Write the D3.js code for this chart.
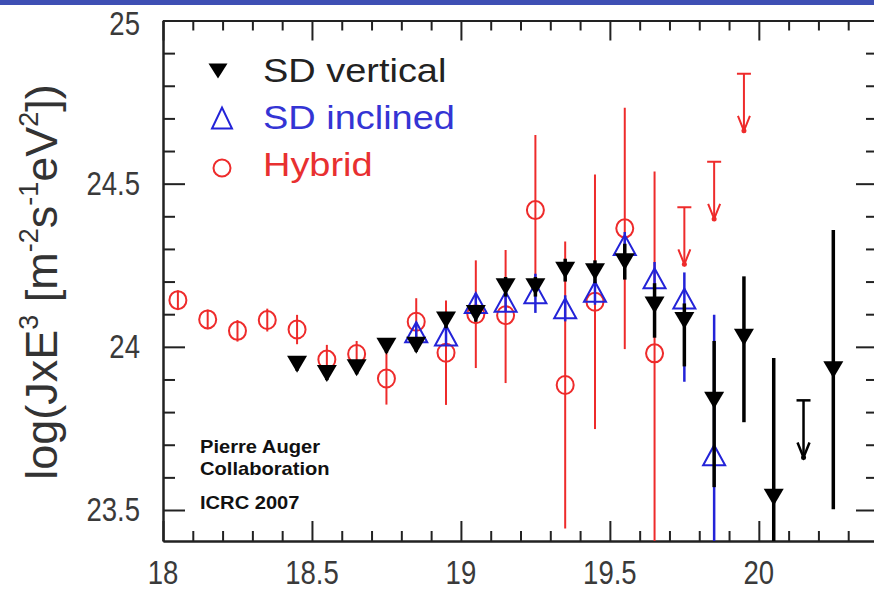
<!DOCTYPE html>
<html>
<head>
<meta charset="utf-8">
<script src="https://cdn.jsdelivr.net/npm/d3@7"></script>
<style>
  body { margin: 0; background: #fff; }
  svg { display: block; font-family: "Liberation Sans", Arial, sans-serif; }
</style>
</head>
<body>
<script>
var width = 874, height = 592;

// SD vertical (filled down triangles)
var vertX  = [18.45, 18.55, 18.65, 18.75, 18.85, 18.95, 19.05, 19.15, 19.25, 19.35, 19.45, 19.55, 19.65, 19.75, 19.85, 19.95, 20.05, 20.25];
var vertY  = [23.947, 23.918, 23.936, 24.002, 24.005, 24.082, 24.102, 24.184, 24.184, 24.235, 24.23, 24.261, 24.128, 24.081, 23.836, 24.029, 23.539, 23.93];
var vertHi = [0.02, 0.02, 0.02, 0.02, 0.02, 0.025, 0.025, 0.03, 0.03, 0.035, 0.035, 0.055, 0.067, 0.052, 0.182, 0.187, 0.427, 0.428];
var vertLo = [0.02, 0.02, 0.02, 0.02, 0.02, 0.025, 0.025, 0.03, 0.03, 0.035, 0.035, 0.055, 0.1, 0.141, 0.266, 0.26, 0.43, 0.428];
var vertLimX = [20.15];
var vertLimY = [23.836];

// SD inclined (open up triangles)
var inclX  = [18.85, 18.95, 19.05, 19.15, 19.25, 19.35, 19.45, 19.55, 19.65, 19.75, 19.85];
var inclY  = [24.045, 24.035, 24.134, 24.138, 24.164, 24.118, 24.169, 24.312, 24.21, 24.148, 23.668];
var inclHi = [0.03, 0.03, 0.03, 0.03, 0.06, 0.04, 0.04, 0.04, 0.05, 0.08, 0.43];
var inclLo = [0.03, 0.03, 0.03, 0.03, 0.06, 0.04, 0.04, 0.04, 0.05, 0.255, 0.6];

// Hybrid (open circles)
var hybX  = [18.05, 18.15, 18.25, 18.35, 18.45, 18.55, 18.65, 18.75, 18.85, 18.95, 19.05, 19.15, 19.25, 19.35, 19.45, 19.55, 19.65];
var hybY  = [24.143, 24.084, 24.049, 24.082, 24.053, 23.961, 23.978, 23.903, 24.077, 23.982, 24.10, 24.097, 24.419, 23.883, 24.138, 24.363, 23.98];
var hybHi = [0.03, 0.03, 0.033, 0.035, 0.045, 0.045, 0.04, 0.08, 0.072, 0.16, 0.165, 0.2, 0.23, 0.44, 0.39, 0.37, 0.557];
var hybLo = [0.03, 0.03, 0.033, 0.035, 0.045, 0.045, 0.04, 0.08, 0.072, 0.16, 0.165, 0.208, 0.23, 0.44, 0.39, 0.37, 0.6];
var hybLimX = [19.75, 19.85, 19.95];
var hybLimY = [24.428, 24.567, 24.837];

var xMajor = [18, 18.5, 19, 19.5, 20];
var yMajor = [23.5, 24, 24.5, 25];
var yLabels = ["23.5", "24", "24.5", "25"];
var legendNames = ["SD vertical", "SD inclined", "Hybrid"];

var black = "#000", blue = "#2323d8", red = "#ee2b2b";

var plotL = 163, plotR = 878, plotT = 20.5, plotB = 541;
var x = d3.scaleLinear().domain([18, 20.4]).range([plotL, plotR]);
var y = d3.scaleLinear().domain([23.405, 25]).range([plotB, plotT]);

var svg = d3.select("body").append("svg")
    .attr("width", width)
    .attr("height", height);

svg.append("rect").attr("x", 0).attr("y", 0).attr("width", width).attr("height", 5).attr("fill", "#3e4fb4");

svg.append("clipPath").attr("id", "plot")
  .append("rect").attr("x", plotL).attr("y", plotT).attr("width", plotR - plotL).attr("height", plotB - plotT);

// axes with inward ticks
var xMinor = d3.range(18.1, 20.4, 0.1).map(v => +v.toFixed(1)).filter(v => xMajor.indexOf(v) < 0);
var yMinor = d3.range(23.5, 25.0, 0.1).map(v => +v.toFixed(1)).filter(v => yMajor.indexOf(v) < 0);

function styleAxis(g) {
  g.selectAll("path").attr("stroke", "#222").attr("stroke-width", 2);
  g.selectAll("line").attr("stroke", "#222").attr("stroke-width", 2);
  g.selectAll("text").remove();
}

svg.append("g").attr("transform", `translate(0,${plotB})`)
    .call(d3.axisBottom(x).tickValues(xMajor).tickSize(-20).tickSizeOuter(0)).call(styleAxis);
svg.append("g").attr("transform", `translate(0,${plotB})`)
    .call(d3.axisBottom(x).tickValues(xMinor).tickSize(-10).tickSizeOuter(0)).call(styleAxis);
svg.append("g").attr("transform", `translate(0,${plotT})`)
    .call(d3.axisTop(x).tickValues(xMajor).tickSize(-20).tickSizeOuter(0)).call(styleAxis);
svg.append("g").attr("transform", `translate(0,${plotT})`)
    .call(d3.axisTop(x).tickValues(xMinor).tickSize(-10).tickSizeOuter(0)).call(styleAxis);
svg.append("g").attr("transform", `translate(${plotL},0)`)
    .call(d3.axisLeft(y).tickValues(yMajor).tickSize(-22).tickSizeOuter(0)).call(styleAxis);
svg.append("g").attr("transform", `translate(${plotL},0)`)
    .call(d3.axisLeft(y).tickValues(yMinor).tickSize(-12).tickSizeOuter(0)).call(styleAxis);
svg.append("g").attr("transform", `translate(${plotR},0)`)
    .call(d3.axisRight(y).tickValues(yMajor).tickSize(-22).tickSizeOuter(0)).call(styleAxis);
svg.append("g").attr("transform", `translate(${plotR},0)`)
    .call(d3.axisRight(y).tickValues(yMinor).tickSize(-12).tickSizeOuter(0)).call(styleAxis);

// tick labels
svg.append("g").selectAll("text")
  .data(xMajor)
  .enter().append("text")
    .attr("transform", d => `translate(${x(d)},584) scale(0.95,1.15)`)
    .attr("text-anchor", "middle")
    .attr("font-size", 29)
    .attr("fill", "#3a3a3a")
    .text(d => d);

svg.append("g").selectAll("text")
  .data(yMajor)
  .enter().append("text")
    .attr("transform", d => `translate(140,${Math.max(y(d), 24) + 11}) scale(0.95,1.15)`)
    .attr("text-anchor", "end")
    .attr("font-size", 29)
    .attr("fill", "#3a3a3a")
    .text((d, i) => yLabels[i]);

// y title
var title = svg.append("text")
    .attr("transform", "translate(57,282) rotate(-90)")
    .attr("text-anchor", "middle")
    .attr("font-size", 45)
    .attr("fill", "#333");
[["log(JxE", 0], ["3", 1], [" [m", 0], ["-2", 1], ["s", 0], ["-1", 1], ["eV", 0], ["2", 1], ["])", 0]].forEach(p => {
  title.append("tspan")
      .attr("font-size", p[1] ? 27 : 45)
      .attr("baseline-shift", p[1] ? "70%" : null)
      .text(p[0]);
});

// markers
function downTri(g, cx, cy, w, h) {
  g.append("path")
      .attr("d", `M${cx - w / 2},${cy - h / 2}L${cx + w / 2},${cy - h / 2}L${cx},${cy + h / 2}Z`)
      .attr("fill", black);
}
function upTri(g, cx, cy, w, h) {
  g.append("path")
      .attr("d", `M${cx - w / 2},${cy + h / 2}L${cx + w / 2},${cy + h / 2}L${cx},${cy - h / 2}Z`)
      .attr("fill", "none").attr("stroke", blue).attr("stroke-width", 2);
}
function ring(g, cx, cy, rx, ry) {
  g.append("ellipse")
      .attr("cx", cx).attr("cy", cy).attr("rx", rx).attr("ry", ry)
      .attr("fill", "none").attr("stroke", red).attr("stroke-width", 2);
}
function limit(g, vx, vy, color, sw) {
  var cx = x(vx), y0 = y(vy), y1 = y(vy - 0.175);
  g.append("line").attr("x1", cx - 7).attr("x2", cx + 7).attr("y1", y0).attr("y2", y0)
      .attr("stroke", color).attr("stroke-width", sw);
  g.append("line").attr("x1", cx).attr("x2", cx).attr("y1", y0).attr("y2", y1)
      .attr("stroke", color).attr("stroke-width", sw);
  g.append("path").attr("d", `M${cx - 6},${y1 - 15}L${cx},${y1}L${cx + 6},${y1 - 15}`)
      .attr("fill", "none").attr("stroke", color).attr("stroke-width", sw);
  g.append("circle").attr("cx", cx).attr("cy", y1).attr("r", 2.5).attr("fill", color);
}

var plot = svg.append("g").attr("clip-path", "url(#plot)");

// error bars, hybrid first (drawn under)
var gHyb = plot.append("g");
hybX.forEach((v, i) => {
  gHyb.append("line")
      .attr("x1", x(v)).attr("x2", x(v))
      .attr("y1", y(hybY[i] + hybHi[i])).attr("y2", y(hybY[i] - hybLo[i]))
      .attr("stroke", red).attr("stroke-width", 2);
});
hybLimX.forEach((v, i) => limit(gHyb, v, hybLimY[i], red, 2));

var gIncl = plot.append("g");
inclX.forEach((v, i) => {
  gIncl.append("line")
      .attr("x1", x(v)).attr("x2", x(v))
      .attr("y1", y(inclY[i] + inclHi[i])).attr("y2", y(inclY[i] - inclLo[i]))
      .attr("stroke", blue).attr("stroke-width", 2.5);
});

var gVert = plot.append("g");
vertX.forEach((v, i) => {
  gVert.append("line")
      .attr("x1", x(v)).attr("x2", x(v))
      .attr("y1", y(vertY[i] + vertHi[i])).attr("y2", y(vertY[i] - vertLo[i]))
      .attr("stroke", black).attr("stroke-width", 3.5);
});
vertLimX.forEach((v, i) => limit(gVert, v, vertLimY[i], black, 2.5));

// symbols
hybX.forEach((v, i) => ring(gHyb, x(v), y(hybY[i]), 8.5, 9));
inclX.forEach((v, i) => upTri(gIncl, x(v), y(inclY[i]), 22, 20));
vertX.forEach((v, i) => downTri(gVert, x(v), y(vertY[i]), 20, 17));

// legend
var legend = svg.append("g");
downTri(legend, 218, 71, 19, 15);
upTri(legend, 222, 118, 20, 21);
ring(legend, 222, 168, 8.5, 8.5);
var legendColors = ["#222", "#3434d4", "#e83030"];
legendNames.forEach((name, i) => {
  legend.append("text")
      .attr("transform", `translate(263,${82 + i * 47}) scale(1.15,1)`)
      .attr("font-size", 33)
      .attr("fill", legendColors[i])
      .text(name);
});

// annotation
var note = svg.append("g").attr("font-weight", "bold").attr("font-size", 17.5).attr("fill", "#111");
[["Pierre Auger", 453], ["Collaboration", 475], ["ICRC 2007", 509]].forEach(d => {
  note.append("text")
      .attr("transform", `translate(200,${d[1]}) scale(1.15,1)`)
      .text(d[0]);
});
</script>
</body>
</html>
